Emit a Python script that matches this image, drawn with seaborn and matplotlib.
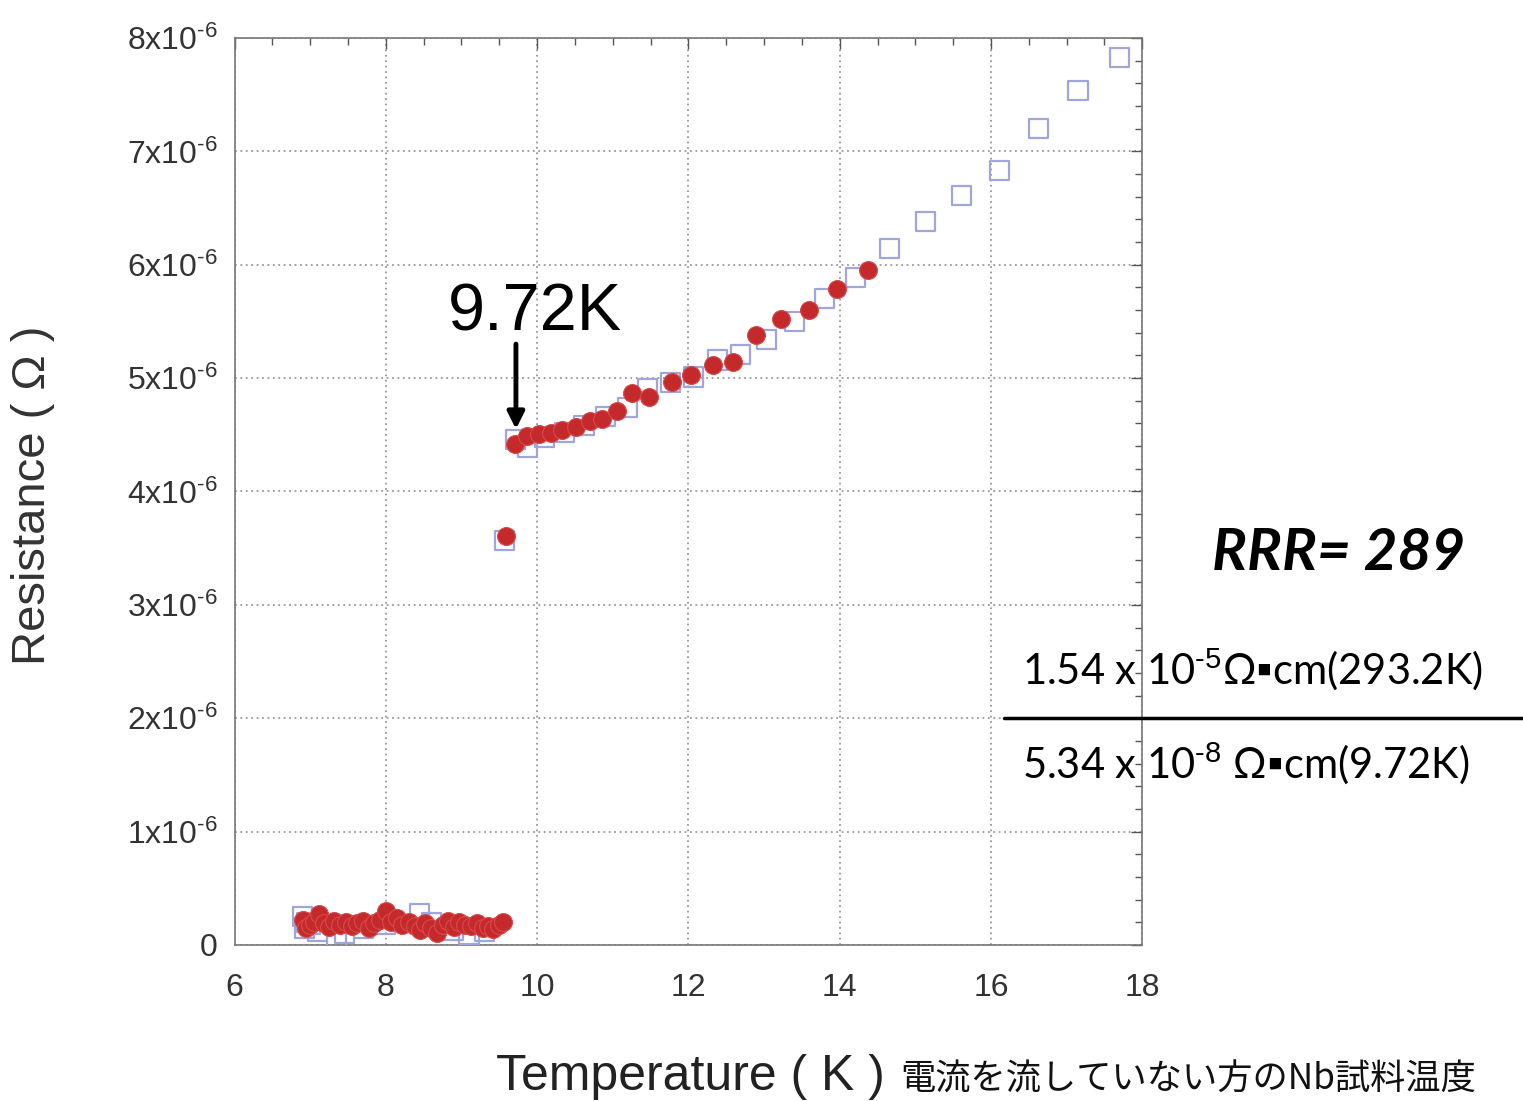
import matplotlib
matplotlib.use("Agg")
import matplotlib.pyplot as plt
import seaborn as sns
import pandas as pd
import numpy as np
from matplotlib.ticker import MultipleLocator, FuncFormatter

# ---- data (resistance in units of 1e-6 ohm) ----
red_T = [6.90, 6.95, 7.00, 7.05, 7.12, 7.18, 7.25, 7.32, 7.40, 7.47, 7.55, 7.62,
         7.70, 7.78, 7.85, 7.92, 8.00, 8.07, 8.15, 8.22, 8.30, 8.38, 8.45, 8.52,
         8.60, 8.68, 8.75, 8.82, 8.90, 8.97, 9.05, 9.12, 9.20, 9.28, 9.35, 9.42,
         9.50, 9.55,
         9.59, 9.71, 9.86, 10.03, 10.19, 10.33, 10.51, 10.70, 10.86, 11.05, 11.26,
         11.48, 11.78, 12.04, 12.32, 12.59, 12.90, 13.23, 13.60, 13.97, 14.38]
red_R = [0.22, 0.15, 0.18, 0.20, 0.27, 0.19, 0.16, 0.21, 0.18, 0.20, 0.17, 0.19,
         0.21, 0.15, 0.19, 0.22, 0.30, 0.20, 0.24, 0.18, 0.20, 0.17, 0.13, 0.19,
         0.15, 0.11, 0.18, 0.21, 0.16, 0.20, 0.18, 0.17, 0.19, 0.15, 0.17, 0.14,
         0.18, 0.20,
         3.61, 4.42, 4.49, 4.51, 4.52, 4.54, 4.57, 4.62, 4.64, 4.71, 4.87,
         4.83, 4.97, 5.03, 5.12, 5.14, 5.38, 5.52, 5.60, 5.79, 5.95]

blue_T = [6.90, 6.92, 6.95, 7.00, 7.10, 7.35, 7.45, 7.70, 8.00, 8.45, 8.60, 8.90,
          9.10, 9.30,
          9.57, 9.71, 9.87, 10.10, 10.36, 10.62, 10.90, 11.19, 11.46, 11.76, 12.07,
          12.38, 12.69, 13.03, 13.40, 13.80, 14.21, 14.66, 15.13, 15.61, 16.11,
          16.63, 17.15, 17.70]
blue_R = [0.25, 0.15, 0.20, 0.18, 0.12, 0.07, 0.10, 0.15, 0.18, 0.28, 0.20, 0.13,
          0.09, 0.12,
          3.57, 4.46, 4.39, 4.48, 4.52, 4.58, 4.66, 4.74, 4.91, 4.96, 5.01,
          5.16, 5.21, 5.34, 5.50, 5.70, 5.89, 6.14, 6.38, 6.61, 6.83,
          7.20, 7.54, 7.83]

y_ticks = [0, 1, 2, 3, 4, 5, 6, 7, 8]
x_ticks = [6, 8, 10, 12, 14, 16, 18]

sns.set_style("white")
plt.rcParams['font.family'] = ['Liberation Sans', 'Noto Sans CJK JP', 'DejaVu Sans']
plt.rcParams['mathtext.fontset'] = 'custom'
plt.rcParams['mathtext.rm'] = 'Liberation Sans'
plt.rcParams['mathtext.it'] = 'Liberation Sans:italic'

HY = "\u2010"

df_red = pd.DataFrame({"T": red_T, "R": np.array(red_R) * 1e-6})
df_blue = pd.DataFrame({"T": blue_T, "R": np.array(blue_R) * 1e-6})

fig = plt.figure(figsize=(15.23, 11.01), dpi=100)
ax = fig.add_axes([0.154, 0.1417, 0.596, 0.8238])

sns.scatterplot(data=df_blue, x="T", y="R", ax=ax, marker="s", s=190,
                facecolor="none", edgecolor="#9ea6dc", linewidth=1.6, zorder=3)
sns.scatterplot(data=df_red, x="T", y="R", ax=ax, marker="o", s=165,
                color="#c42a2c", edgecolor="#d84848", linewidth=0.8, zorder=4)

ax.set_xlim(6, 18)
ax.set_ylim(0, 8e-6)
ax.set_xticks(x_ticks)
ax.set_yticks([v * 1e-6 for v in y_ticks])
ax.xaxis.set_minor_locator(MultipleLocator(0.5))
ax.yaxis.set_minor_locator(MultipleLocator(0.2e-6))

def yfmt(v, pos):
    n = int(round(v * 1e6))
    if n == 0:
        return "0"
    return "$%d\\mathrm{x}10^{\\mathrm{%s6}}$" % (n, HY)

ax.yaxis.set_major_formatter(FuncFormatter(yfmt))
ax.tick_params(axis="both", which="both", direction="in", top=True, right=True,
               colors="#555555", labelcolor="#333333", labelsize=23)
ax.tick_params(which="major", length=8, width=1)
ax.tick_params(which="minor", length=5, width=1)
ax.tick_params(axis="x", pad=20)
ax.tick_params(axis="y", pad=12)
ax.grid(True, which="major", linestyle=(0, (1, 2)), color="#999999", linewidth=1.3)
for s in ax.spines.values():
    s.set_color("#777777")
    s.set_linewidth(1.2)

ax.set_xlabel("")
ax.set_ylabel("Resistance ( Ω )", fontsize=34, color="#333333")
ax.yaxis.set_label_coords(-0.198, 0.496)

fig.text(0.326, 0.010, "Temperature ( K )", fontsize=36, color="#222222",
         ha="left", va="baseline")
fig.text(0.591, 0.010, "電流を流していない方のNb試料温度", fontsize=25.4,
         color="#111111", ha="left", va="baseline",
         family=['Noto Sans CJK JP', 'DejaVu Sans'])

# annotation for Tc
ax.text(9.97, 5.42e-6, "9.72K", fontsize=48, ha="center", va="baseline", color="black")
ax.annotate("", xy=(9.72, 4.55e-6), xytext=(9.72, 5.30e-6),
            arrowprops=dict(arrowstyle="-|>,head_width=0.5,head_length=1.0",
                            color="black", lw=3.5, shrinkA=0, shrinkB=0))

# RRR text on the right
fig.text(0.879, 0.497, "RRR= 289", fontsize=42, fontweight="bold", style="italic",
         ha="center", va="center", color="black",
         family=['Lato', 'DejaVu Sans'])
fig.text(0.671, 0.392, "1.54 x 10$^{\\mathrm{%s5}}$Ω▪cm(293.2K)" % HY, fontsize=30,
         ha="left", va="center", color="black", family=['Lato', 'DejaVu Sans'])
fig.text(0.671, 0.307, "5.34 x 10$^{\\mathrm{%s8}}$ Ω▪cm(9.72K)" % HY, fontsize=30,
         ha="left", va="center", color="black", family=['Lato', 'DejaVu Sans'])
fig.add_artist(plt.Line2D([0.659, 1.0], [0.348, 0.348], color="black", lw=2.5,
                          transform=fig.transFigure))

fig.savefig("out.png", dpi=100)
